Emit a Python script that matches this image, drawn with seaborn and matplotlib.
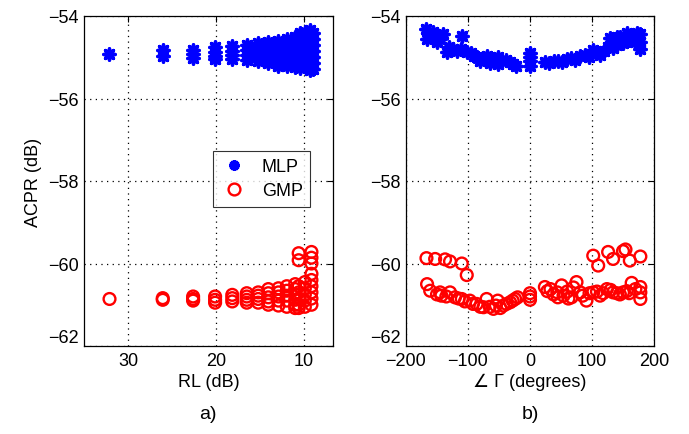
import numpy as np
import pandas as pd
import matplotlib
matplotlib.use("Agg")
import matplotlib.pyplot as plt
import seaborn as sns
from matplotlib.lines import Line2D

# ---------------- data ----------------
# Panel a) : ACPR vs RL
rl_mlp = ([32.2] + [26.05]*2 + [22.6]*3 + [20.1]*4 + [18.15]*4 + [16.5]*4 + [15.2]*5 +
          [14.05]*5 + [12.9]*6 + [11.95]*6 + [11.0]*7 + [10.45]*7 + [9.9]*7 + [9.3]*8 + [8.95]*7)
acpr_mlp_rl = [-54.92,
               -54.82, -54.98,
               -54.82, -54.93, -55.02,
               -54.76, -54.88, -54.98, -55.05,
               -54.72, -54.84, -54.95, -55.05,
               -54.70, -54.82, -54.94, -55.06,
               -54.66, -54.78, -54.90, -55.00, -55.10,
               -54.64, -54.76, -54.88, -55.00, -55.14,
               -54.60, -54.72, -54.85, -54.98, -55.10, -55.20,
               -54.55, -54.68, -54.82, -54.95, -55.08, -55.20,
               -54.50, -54.62, -54.78, -54.92, -55.05, -55.18, -55.24,
               -54.42, -54.55, -54.70, -54.85, -55.00, -55.15, -55.25,
               -54.38, -54.50, -54.65, -54.82, -54.95, -55.10, -55.22,
               -54.33, -54.45, -54.60, -54.75, -54.90, -55.05, -55.18, -55.30,
               -54.40, -54.55, -54.70, -54.85, -55.00, -55.15, -55.28]

rl_gmp = ([32.1] + [26.05]*2 + [22.6]*3 + [20.1]*3 + [18.15]*3 + [16.5]*4 + [15.2]*4 +
          [14.05]*5 + [12.9]*5 + [11.95]*5 + [11.0]*6 + [10.6]*7 + [9.9]*5 + [9.15]*9)
acpr_gmp_rl = [-60.86,
               -60.84, -60.88,
               -60.80, -60.86, -60.90,
               -60.80, -60.88, -60.95,
               -60.76, -60.84, -60.92,
               -60.72, -60.80, -60.88, -60.95,
               -60.70, -60.78, -60.86, -60.95,
               -60.62, -60.72, -60.82, -60.92, -61.00,
               -60.60, -60.70, -60.80, -60.90, -61.02,
               -60.55, -60.66, -60.78, -60.90, -61.05,
               -60.50, -60.62, -60.75, -60.88, -61.00, -61.08,
               -59.75, -59.92, -60.55, -60.70, -60.85, -61.00, -61.08,
               -60.45, -60.60, -60.75, -60.90, -61.05,
               -59.72, -59.86, -60.00, -60.25, -60.40, -60.55, -60.70, -60.85, -61.00]

# Panel b) : ACPR vs angle of Gamma
ang_mlp = [-167, -166, -160, -156, -150, -145, -140, -134, -130, -125, -118, -112, -110,
           -102, -95, -91, -85, -81, -75, -70, -64, -60, -52, -52, -45, -38, -33, -27, -22,
           0, 0, 0, 0,
           24, 30, 38, 45, 52, 59, 66, 73, 81, 88, 95, 102, 108, 113, 120, 125, 129, 134,
           140, 140, 145, 150, 156, 160, 165, 170, 172, 177, 178, 178]
acpr_mlp_ang = [-54.32, -54.56, -54.50, -54.39, -54.63, -54.55, -54.44, -54.87, -54.75,
                -54.80, -54.84, -54.80, -54.49, -54.87, -54.90, -54.97, -55.00, -55.08,
                -55.05, -54.96, -55.14, -55.05, -54.99, -55.17, -55.10, -55.06, -55.12,
                -55.17, -55.20,
                -54.90, -55.00, -55.10, -55.20,
                -55.12, -55.15, -55.10, -55.08, -55.12, -55.05, -55.02, -55.06, -54.97,
                -54.95, -55.00, -54.83, -54.88, -54.95, -54.85, -54.75, -54.53, -54.78,
                -54.70, -54.50, -54.50, -54.65, -54.40, -54.58, -54.50, -54.62, -54.40,
                -54.43, -54.63, -54.80]

ang_gmp = [-167, -153, -137, -129, -110, -102,
           -166, -161, -150, -145, -143, -135, -129, -121, -115, -110, -105, -97, -92, -86,
           -80, -75, -70, -65, -59, -55, -52, -48, -43, -38, -32, -28, -24, -20,
           0, 0, 0,
           24, 28, 33, 38, 44, 45, 51, 54, 60, 62, 67, 70, 75, 81, 85, 91, 96, 102, 108, 113,
           118, 124, 130, 134, 140, 145, 150, 156, 160, 164, 170, 178, 178, 178,
           102, 110, 126, 134, 150, 154, 161, 178]
acpr_gmp_ang = [-59.87, -59.89, -59.90, -59.95, -60.00, -60.28,
                -60.50, -60.66, -60.75, -60.70, -60.78, -60.80, -60.70, -60.82, -60.85,
                -60.86, -60.92, -60.90, -60.98, -60.98, -61.05, -61.06, -60.86, -61.05,
                -61.10, -61.02, -60.90, -61.08, -61.02, -60.98, -60.94, -60.90, -60.86, -60.82,
                -60.72, -60.80, -60.88,
                -60.57, -60.67, -60.62, -60.75, -60.70, -60.82, -60.53, -60.78, -60.68,
                -60.85, -60.82, -60.58, -60.45, -60.70, -60.78, -60.90, -60.72, -60.70,
                -60.68, -60.78, -60.72, -60.62, -60.64, -60.70, -60.72, -60.75, -60.70,
                -60.67, -60.72, -60.47, -60.62, -60.57, -60.70, -60.86,
                -59.81, -60.05, -59.72, -59.89, -59.70, -59.66, -59.93, -59.83]

series_names = ["MLP", "GMP"]
y_ticks = [-62, -60, -58, -56, -54]
x_ticks_a = [30, 20, 10]
x_ticks_b = [-200, -100, 0, 100, 200]

# ---------------- style ----------------
sns.set_theme(style="white")
plt.rcParams["font.family"] = ["Liberation Sans", "DejaVu Sans"]
plt.rcParams["font.size"] = 13
plt.rcParams["text.color"] = "black"
plt.rcParams["axes.labelcolor"] = "black"

fig = plt.figure(figsize=(6.89, 4.35), dpi=100)
ax1 = fig.add_axes([84/689, 88/435, 249/689, 330/435])
ax2 = fig.add_axes([406/689, 88/435, 248/689, 330/435])

df_a_m = pd.DataFrame({"x": rl_mlp, "y": acpr_mlp_rl})
df_a_g = pd.DataFrame({"x": rl_gmp, "y": acpr_gmp_rl})
df_b_m = pd.DataFrame({"x": ang_mlp, "y": acpr_mlp_ang})
df_b_g = pd.DataFrame({"x": ang_gmp, "y": acpr_gmp_ang})

ast = (8, 2, 0)
for ax, dm, dg in [(ax1, df_a_m, df_a_g), (ax2, df_b_m, df_b_g)]:
    sns.scatterplot(data=dm, x="x", y="y", ax=ax, marker=ast, s=64,
                    color="#0000ff", edgecolor="#0000ff", linewidth=2.5, zorder=3)
    sns.scatterplot(data=dg, x="x", y="y", ax=ax, marker="o", s=72,
                    facecolors="none", edgecolor="#ff0000", linewidth=1.7, zorder=3)
    ax.set_ylim(-62, -54)
    ax.set_yticks(y_ticks)
    ax.grid(True, color="black", linestyle=(0, (1, 3.5)), linewidth=0.9)
    ax.tick_params(direction="in", length=4, width=0.8, top=True, right=True,
                   labelsize=13, colors="black", pad=4)
    for sp in ax.spines.values():
        sp.set_color("black")
        sp.set_linewidth(0.9)
    ax.set_ylabel("")

ax1.set_xlim(35, 6.7)
ax1.set_xticks(x_ticks_a)
ax1.set_xlabel("RL (dB)", fontsize=13, labelpad=3)
ax1.set_ylabel("ACPR (dB)", fontsize=13, labelpad=4)

ax2.set_xlim(-200, 200)
ax2.set_xticks(x_ticks_b)
ax2.set_xlabel("∠ Γ (degrees)", fontsize=13, labelpad=3)

# lift the lowest y tick label (as in the original) so it clears the x tick labels
for ax in (ax1, ax2):
    ax.yaxis.get_major_ticks()[0].label1.set_verticalalignment("bottom")

handles = [Line2D([], [], linestyle="none", marker=ast, markersize=7.5, markeredgewidth=2.4,
                  color="#0000ff"),
           Line2D([], [], linestyle="none", marker="o", markersize=8.5, markeredgewidth=1.7,
                  markerfacecolor="none", markeredgecolor="#ff0000")]
leg = ax1.legend(handles, series_names, loc="upper left", bbox_to_anchor=(0.518, 0.591),
                 frameon=True, fancybox=False, edgecolor="black", fontsize=13,
                 borderpad=0.4, handletextpad=0.8, labelspacing=0.4, handlelength=1.5,
                 borderaxespad=0)
leg.get_frame().set_linewidth(0.8)
leg.set_zorder(5)

fig.text(208/689, 1 - 415/435, "a)", ha="center", va="center", fontsize=14)
fig.text(530/689, 1 - 415/435, "b)", ha="center", va="center", fontsize=14)

fig.savefig("out.png", dpi=100)
